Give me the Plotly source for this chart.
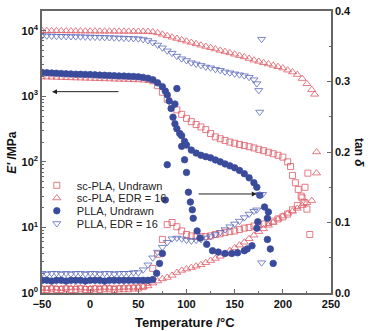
import plotly.graph_objects as go

# ---------------- data ----------------
# sc-PLA, EDR = 16  (open red triangles)
T_scE16_E = [-50,-45,-40,-35,-30,-25,-20,-15,-10,-5,0,5,10,15,20,25,30,35,40,45,50,55,60,
             65,70,75,80,85,90,95,100,105,110,115,120,125,130,135,140,145,150,155,160,
             165,170,175,180,185,190,195,200,205,210,215,220,225,230,233]
E_scE16 = [10000,9980,9960,9950,9930,9910,9900,9880,9870,9850,9840,9820,9810,9800,9790,9780,9770,9760,9750,9740,9730,9720,9700,
           9550,9250,8800,8350,7950,7600,7250,6900,6600,6300,6000,5750,5500,5250,5000,4800,4580,4370,4170,3980,
           3760,3550,3400,3240,3100,2950,2820,2690,2500,2340,2140,1860,1550,1260,1070]
T_scE16_tan = [-50,-45,-40,-35,-30,-25,-20,-15,-10,-5,0,5,10,15,20,25,30,35,40,45,50,55,
               60,65,70,75,80,85,90,95,100,105,110,115,120,125,130,135,140,145,150,155,160,
               165,170,175,180,185,190,195,200,205,210,215,220,225,230,235,235]
tan_scE16 = [0.007,0.006,0.007,0.007,0.006,0.007,0.007,0.008,0.007,0.007,0.006,0.007,0.007,0.008,0.007,0.007,0.007,0.008,0.008,0.008,0.008,0.009,
             0.010,0.014,0.017,0.020,0.022,0.025,0.029,0.032,0.034,0.036,0.038,0.040,0.043,0.046,0.049,0.052,0.056,0.060,0.064,0.068,0.072,
             0.077,0.082,0.087,0.091,0.096,0.100,0.105,0.109,0.113,0.116,0.120,0.124,0.128,0.131,0.170,0.200]

# sc-PLA, Undrawn  (open red squares)
T_scU_E = [-50,-45,-40,-35,-30,-25,-20,-15,-10,-5,0,5,10,15,20,25,30,35,40,45,50,55,60,
           65,70,75,80,85,90,95,100,105,110,115,120,125,130,135,140,145,150,155,160,165,170,
           175,180,185,190,195,200,205,208,210,213,216,219,222,225]
E_scU = [2050,2040,2030,2020,2010,2000,1990,1980,1970,1960,1950,1940,1930,1920,1910,1900,1890,1880,1870,1860,1850,1830,1800,
         1720,1450,1150,900,740,620,530,460,410,370,340,310,270,240,225,212,200,192,184,177,170,163,
         155,148,140,133,126,118,100,85,62,48,38,30,24,19]
T_scU_tan = [-50,-45,-40,-35,-30,-25,-20,-15,-10,-5,0,5,10,15,20,25,30,35,40,45,50,55,
             60,65,70,75,80,85,90,95,100,105,110,115,120,125,130,135,140,145,150,155,160,
             165,170,175,180,185,190,195,200,205,210,215,220,223,226,228]
tan_scU = [0.005,0.005,0.006,0.005,0.005,0.006,0.005,0.005,0.006,0.005,0.005,0.006,0.005,0.006,0.006,0.005,0.006,0.006,0.006,0.007,0.007,0.009,
           0.015,0.035,0.055,0.076,0.097,0.100,0.094,0.088,0.083,0.081,0.080,0.080,0.080,0.081,0.083,0.084,0.086,0.087,0.088,0.090,0.092,
           0.093,0.095,0.097,0.098,0.100,0.102,0.105,0.108,0.112,0.118,0.124,0.135,0.150,0.170,0.083]

# PLLA, EDR = 16  (open blue down-triangles)
T_plE16_E = [-50,-45,-40,-35,-30,-25,-20,-15,-10,-5,0,5,10,15,20,25,30,35,40,45,50,
             55,60,65,70,75,80,85,90,95,100,105,110,115,120,125,130,135,140,145,150,155,160,165,170,
             173,175,176,178]
E_plE16 = [8400,8350,8300,8250,8220,8180,8150,8120,8100,8050,8000,7980,7950,7900,7850,7800,7750,7700,7650,7600,7550,
           7350,7080,6610,6050,5480,4930,4540,4090,3740,3510,3250,3110,2960,2800,2720,2580,2490,2360,2280,2200,2130,2060,1950,1790,
           1560,1230,575,2.9]
T_plE16_tan = [-50,-45,-40,-35,-30,-25,-20,-15,-10,-5,0,5,10,15,20,25,30,35,40,45,50,
               55,60,65,70,75,80,85,90,95,100,105,110,115,120,125,130,135,140,145,150,155,160,165,170,
               173,176,179,178]
tan_plE16 = [0.028,0.027,0.028,0.028,0.027,0.028,0.027,0.028,0.028,0.027,0.028,0.028,0.027,0.028,0.028,0.027,0.028,0.028,0.028,0.029,0.029,
             0.033,0.040,0.050,0.058,0.065,0.072,0.077,0.078,0.077,0.075,0.074,0.075,0.076,0.078,0.080,0.083,0.086,0.090,0.094,0.098,0.102,0.107,0.112,0.116,
             0.118,0.140,0.140,0.360]

# PLLA, Undrawn  (filled blue circles)
T_plU_E = [-50,-45,-40,-35,-30,-25,-20,-15,-10,-5,0,5,10,15,20,25,30,35,40,45,50,55,60,65,
           70,75,78,80,82,84,86,88,90,93,95,98,100,105,110,115,120,125,130,135,140,145,150,155,160,165,170,173,176]
E_plU = [2300,2280,2260,2240,2220,2200,2190,2170,2160,2150,2140,2120,2100,2090,2070,2060,2040,2030,2010,2000,1980,1940,1880,1780,
         1600,1400,1200,1050,850,650,480,380,320,270,250,205,180,151,136,126,120,115,107,100,93,87,81,74,66,57,48,41,31]
T_plU_tan = [-50,-45,-40,-35,-30,-25,-20,-15,-10,-5,0,5,10,15,20,25,30,35,40,45,50,55,60,
             65,69,72,75,78,80,88,90,95,98,100,102,104,106,107,111,114,121,127,133,140,147,153,160,
             163,168,173,174,181,185,184,184,187,190]
tan_plU = [0.018,0.018,0.017,0.018,0.018,0.017,0.018,0.018,0.018,0.017,0.018,0.018,0.018,0.017,0.018,0.018,0.018,0.018,0.018,0.018,0.018,0.018,0.018,
           0.019,0.028,0.042,0.056,0.132,0.182,0.268,0.290,0.208,0.189,0.171,0.143,0.129,0.118,0.106,0.088,0.078,0.069,0.060,0.058,0.056,0.056,0.057,0.060,
           0.0625,0.067,0.092,0.101,0.122,0.115,0.106,0.076,0.0625,0.042]

RED = "#de5a66"
BLUE_C = "#3a4b9c"
BLUE_T = "#5c6abb"

series = [
    ("sc-PLA, Undrawn", "square-open", RED, T_scU_E, E_scU, T_scU_tan, tan_scU, 6),
    ("sc-PLA, EDR = 16", "triangle-up-open", RED, T_scE16_E, E_scE16, T_scE16_tan, tan_scE16, 7),
    ("PLLA, Undrawn", "circle", BLUE_C, T_plU_E, E_plU, T_plU_tan, tan_plU, 6.5),
    ("PLLA, EDR = 16", "triangle-down-open", BLUE_T, T_plE16_E, E_plE16, T_plE16_tan, tan_plE16, 7),
]
legend_ids = ["legend", "legend2", "legend3", "legend4"]

fig = go.Figure()
draw_order = [0, 1, 3, 2]
for i in draw_order:
    name, sym, col, tE, vE, tT, vT, sz = series[i]
    mk = dict(symbol=sym, size=sz, color=col, line=dict(color=col, width=0.8))
    fig.add_trace(go.Scatter(x=tE, y=vE, mode="markers", name=name, marker=mk,
                             legendgroup=name, legend=legend_ids[i], yaxis="y"))
    fig.add_trace(go.Scatter(x=tT, y=vT, mode="markers", name=name, marker=mk,
                             legendgroup=name, showlegend=False, legend=legend_ids[i], yaxis="y2"))

minor_vals = [m * 10 ** k for k in range(0, 5) for m in range(2, 10)]
tickfont = dict(family="Arial", size=11, color="#111", weight="bold")
AX = "#666"

legend_rows_px = [183, 196, 209, 222]
legend_layouts = {}
for lid, ypx in zip(legend_ids, legend_rows_px):
    legend_layouts[lid] = dict(x=-0.018, y=(293 - ypx) / 288, xanchor="left", yanchor="middle",
                               bgcolor="rgba(0,0,0,0)", borderwidth=0,
                               font=dict(family="Arial", size=11, color="#222"),
                               itemwidth=30, tracegroupgap=0)

fig.update_layout(
    width=368, height=331,
    margin=dict(l=42, r=37, t=5, b=38),
    paper_bgcolor="white", plot_bgcolor="white",
    showlegend=True,
    xaxis=dict(range=[-50, 250], tick0=-50, dtick=50, ticks="inside", ticklen=4,
               tickcolor=AX, showline=True, linecolor=AX, linewidth=1.5, mirror=True,
               showgrid=False, zeroline=False, tickfont=tickfont,
               minor=dict(ticks="inside", dtick=25, tick0=-50, ticklen=2.5, tickcolor=AX)),
    yaxis=dict(type="log", range=[0, 4.3], tickvals=[1, 10, 100, 1000, 10000],
               ticktext=["10<sup>0</sup>", "10<sup>1</sup>", "10<sup>2</sup>", "10<sup>3</sup>", "10<sup>4</sup>"],
               ticks="inside", ticklen=4, tickcolor=AX, showline=True, linecolor=AX,
               linewidth=1.5, showgrid=False, zeroline=False, tickfont=tickfont,
               minor=dict(tickvals=minor_vals, ticks="inside", ticklen=2.5, tickcolor=AX)),
    yaxis2=dict(overlaying="y", side="right", range=[0, 0.4], dtick=0.1, tickformat=".1f",
                ticks="inside", ticklen=4, tickcolor=AX, showline=True, linecolor=AX,
                linewidth=1.5, showgrid=False, zeroline=False, tickfont=tickfont,
                minor=dict(dtick=0.05, ticks="inside", ticklen=2.5, tickcolor=AX)),
    annotations=[
        dict(text="<b><i>E'</i> /MPa</b>", xref="paper", yref="paper", x=-0.105, y=0.5,
             xanchor="center", yanchor="middle",
             textangle=-90, showarrow=False, font=dict(family="Arial", size=12, color="#111")),
        dict(text="<b>tan <i>δ</i></b>", xref="paper", yref="paper", x=1.097, y=0.5,
             xanchor="center", yanchor="middle",
             textangle=90, showarrow=False, font=dict(family="Arial", size=12, color="#111")),
        dict(text="<b>Temperature /°C</b>", xref="paper", yref="paper", x=0.495, y=-0.105,
             xanchor="center", yanchor="middle",
             showarrow=False, font=dict(family="Arial", size=13, color="#111")),
        dict(text="", x=-39.6, y=3.07, ax=31, ay=3.07, xref="x", yref="y", axref="x", ayref="y",
             showarrow=True, arrowhead=2, arrowsize=1, arrowwidth=1, arrowcolor="#222"),
        dict(text="", x=173, y=1.51, ax=111, ay=1.51, xref="x", yref="y", axref="x", ayref="y",
             showarrow=True, arrowhead=2, arrowsize=1, arrowwidth=1, arrowcolor="#222"),
    ],
    **legend_layouts,
)

fig.write_html("out.html")
